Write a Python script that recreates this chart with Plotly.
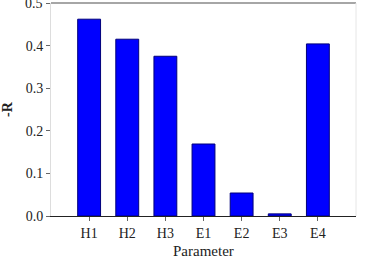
import plotly.graph_objects as go

categories = ["H1", "H2", "H3", "E1", "E2", "E3", "E4"]
values = [0.462, 0.415, 0.375, 0.169, 0.054, 0.005, 0.404]
y_ticks = [0.0, 0.1, 0.2, 0.3, 0.4, 0.5]
x_title = "Parameter"
y_title = "<b>-R</b>"

fig = go.Figure(go.Bar(
    x=categories, y=values,
    marker=dict(color="#0000FF", line=dict(color="#00007a", width=1)),
))

fam = "Liberation Serif"
font = dict(family=fam, size=14, color="#222")

fig.update_layout(
    width=365, height=256,
    margin=dict(l=51, r=9, t=3, b=40),
    plot_bgcolor="white", paper_bgcolor="white",
    bargap=0.4, showlegend=False, font=font,
    xaxis=dict(
        range=[-1, 7], showgrid=False, showline=True, linecolor="#222", linewidth=1,
        ticks="outside", ticklen=4, tickcolor="#666", tickfont=font, automargin=False,
    ),
    yaxis=dict(
        range=[0, 0.5], tickvals=y_ticks, ticktext=[f"{v:.1f}" for v in y_ticks], showgrid=False,
        showline=True, linecolor="#ddd", linewidth=1, automargin=False,
        ticks="outside", ticklen=4, tickcolor="#666", tickfont=font,
        title=dict(text=y_title, font=dict(family=fam, size=14, color="#222"), standoff=10),
        zeroline=False,
    ),
    shapes=[
        dict(type="line", xref="paper", yref="paper", x0=0, x1=1, y0=1, y1=1,
             line=dict(color="#888", width=1.5)),
        dict(type="line", xref="paper", yref="paper", x0=1, x1=1, y0=0, y1=1,
             line=dict(color="#e6e6e6", width=1)),
    ],
    annotations=[
        dict(text=f"{y_ticks[-1]:.1f}", xref="paper", yref="y", x=0, y=y_ticks[-1],
             xanchor="right", yanchor="middle", xshift=-6, showarrow=False, font=font),
        dict(text=x_title, xref="paper", yref="paper", x=0.5, y=0,
             xanchor="center", yanchor="top", yshift=-25, showarrow=False,
             font=dict(family=fam, size=15, color="#222")),
    ],
)

fig.write_html("out.html")
